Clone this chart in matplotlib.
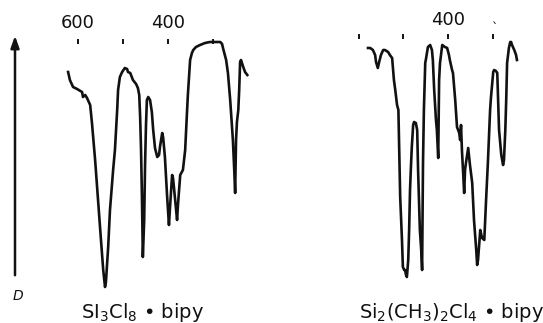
import matplotlib
matplotlib.use("Agg")
import matplotlib.pyplot as plt

plt.rcParams.update({
    "font.family": "DejaVu Sans",
    "mathtext.default": "regular",
})

INK = "#111111"

# Si3Cl8.bipy spectrum: wavenumber (cm-1), trace height (arb.)
left_wn = [622, 618, 611, 602, 591, 589, 584, 580, 573, 569, 562, 556, 549, 544,
           540, 538, 533, 529, 522, 518, 513, 511, 507, 502, 496, 491, 489, 484,
           478, 471, 467, 464, 462, 460, 458, 456, 453, 451, 449, 447, 444, 440,
           436, 433, 429, 424, 420, 418, 413, 411, 407, 402, 398, 396, 391, 389,
           387, 380, 378, 373, 367, 362, 358, 356, 351, 347, 344, 338, 329, 318,
           307, 296, 284, 280, 278, 271, 267, 262, 256, 253, 251, 249, 247, 244,
           242, 240, 238, 233, 229, 224]
left_d = [228, 220, 213, 211, 208, 203, 205, 202, 195, 177, 140, 103, 60, 30,
          13, 18, 53, 90, 130, 150, 190, 210, 223, 228, 232, 231, 228, 227,
          220, 216, 212, 205, 183, 150, 103, 43, 80, 137, 175, 200, 203, 200,
          188, 170, 152, 143, 145, 153, 167, 163, 143, 103, 75, 90, 125, 122,
          113, 80, 95, 125, 130, 150, 187, 205, 240, 247, 250, 253, 255, 257,
          258, 258, 258, 256, 252, 240, 227, 200, 160, 130, 107, 160, 178, 190,
          210, 238, 240, 233, 228, 225]

# Si2(CH3)2Cl4.bipy spectrum
right_wn = [579, 574, 568, 563, 561, 557, 554, 550, 545, 541, 534, 530, 525, 521,
            518, 514, 511, 507, 503, 501, 498, 496, 494, 492, 489, 487, 485, 483,
            481, 478, 476, 472, 469, 467, 465, 463, 460, 458, 456, 454, 451, 449,
            445, 440, 436, 434, 431, 427, 425, 422, 420, 418, 413, 407, 402, 398,
            396, 391, 389, 384, 380, 375, 373, 371, 369, 366, 364, 362, 360, 355,
            351, 346, 342, 337, 335, 333, 328, 324, 319, 315, 311, 306, 304, 299,
            297, 293, 290, 286, 281, 277, 275, 272, 270, 268, 264, 261, 259, 257,
            252, 248, 246]
right_d = [252, 252, 250, 245, 238, 232, 238, 245, 250, 250, 248, 245, 242, 220,
           210, 195, 190, 103, 60, 33, 30, 30, 25, 23, 40, 70, 110, 133,
           153, 175, 178, 177, 170, 130, 100, 70, 50, 30, 137, 190, 237, 242,
           253, 255, 250, 240, 210, 180, 170, 142, 220, 237, 255, 253, 252, 245,
           240, 230, 227, 200, 173, 167, 160, 175, 150, 125, 107, 130, 137, 152,
           135, 117, 80, 50, 35, 40, 70, 62, 60, 100, 137, 190, 203, 228,
           230, 229, 227, 170, 145, 135, 140, 170, 200, 237, 252, 258, 258, 255,
           250, 245, 240]

tick_wn = [600, 500, 400, 300]
left_labels = {600: "600", 400: "400"}
right_labels = {400: "400"}

W, H = 543, 323
fig = plt.figure(figsize=(W / 100, H / 100), dpi=100)
fig.patch.set_facecolor("white")


def panel(left_px, width_px, xlim, wn, d, tick_y, lab_y, labels):
    ax = fig.add_axes([left_px / W, 23 / H, width_px / W, 300 / H])
    ax.plot(wn, d, color=INK, lw=1.9, solid_joinstyle="round")
    ax.vlines(tick_wn, tick_y, tick_y + 5, color=INK, lw=1.4)
    for w, s in labels.items():
        ax.text(w, lab_y, s, ha="center", va="center", fontsize=13,
                color=INK)
    ax.set_xlim(*xlim)
    ax.set_ylim(0, 300)
    ax.axis("off")
    return ax


panel(60, 190, (640, 218), left_wn, left_d, 256, 277, left_labels)
axr = panel(355, 170, (608, 228), right_wn, right_d, 261, 280, right_labels)
axr.text(294, 271, "`", ha="center", va="center", fontsize=9, color=INK)

# D axis arrow
fig.add_artist(matplotlib.patches.FancyArrowPatch(
    (15 / W, 1 - 278 / H), (15 / W, 1 - 33 / H),
    transform=fig.transFigure, arrowstyle="-|>,head_length=7,head_width=2.5",
    color=INK, lw=1.8, mutation_scale=1))
fig.text(18 / W, 1 - 296 / H, "D", ha="center", va="center", fontsize=10,
         style="italic", color=INK)

fig.text(143 / W, 1 - 312 / H, "SI$_3$Cl$_8$ \u2022 bipy", ha="center",
         va="center", fontsize=14, color=INK)
fig.text(452 / W, 1 - 312 / H, "Si$_2$(CH$_3$)$_2$Cl$_4$ \u2022 bipy",
         ha="center", va="center", fontsize=14, color=INK)

fig.savefig("out.png", dpi=100, facecolor="white")
